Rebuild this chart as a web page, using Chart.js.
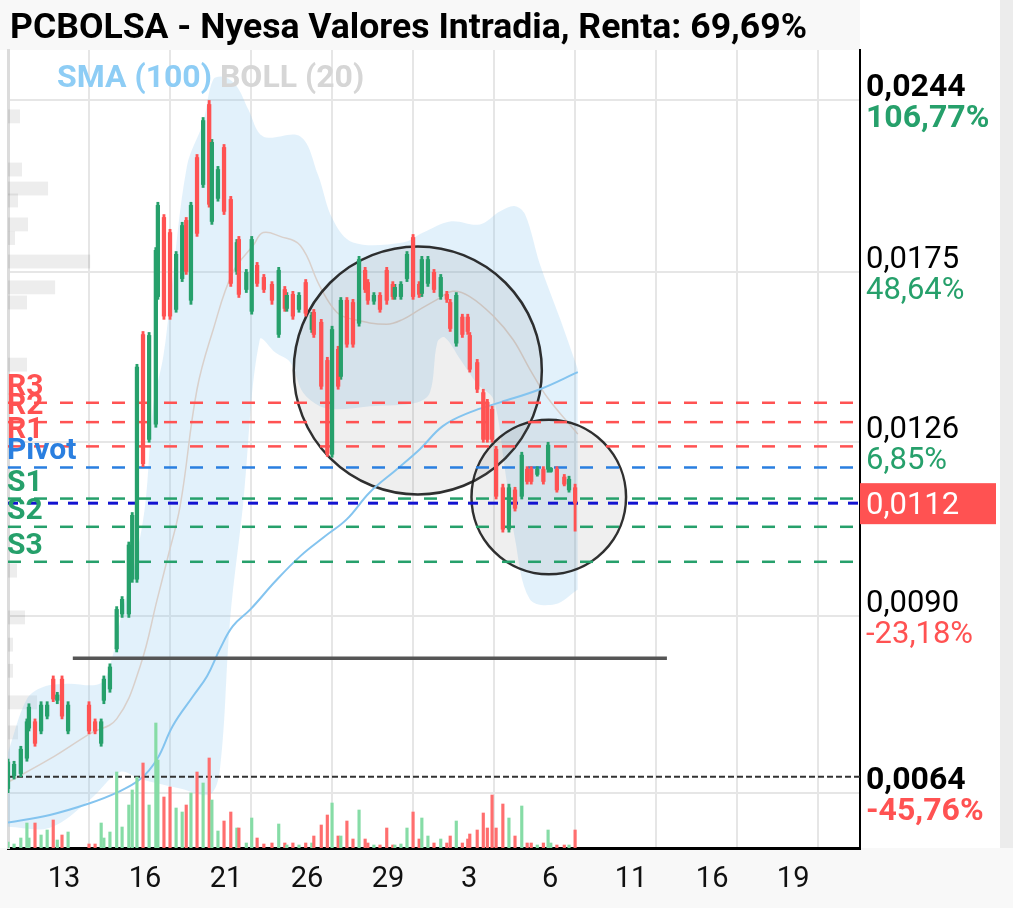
<!DOCTYPE html>
<html>
<head>
<meta charset="utf-8">
<script src="https://cdn.jsdelivr.net/npm/chart.js@4.4.1/dist/chart.umd.min.js"></script>
<style>
html,body{margin:0;padding:0;background:#fff;}
canvas{display:block;}
</style>
</head>
<body>
<canvas id="grafico" width="1013" height="908"></canvas>
<script>
var titulo = 'PCBOLSA - Nyesa Valores Intradia, Renta: 69,69%';

// eje x: sesiones (en unidades de vela) y etiquetas de dia
var ticksEje = [12, 24, 36, 48, 60, 72, 84, 96, 108, 120];
var diasEje = ['13', '16', '21', '26', '29', '3', '6', '11', '16', '19'];

// eje de precios (log) y etiquetas de la derecha
var precioTicks = [0.0244, 0.0175, 0.0126, 0.0090, 0.0064];
var precioTexto = ['0,0244', '0,0175', '0,0126', '0,0090', '0,0064'];
var rentaTexto = ['106,77%', '48,64%', '6,85%', '-23,18%', '-45,76%'];
var precioNegrita = [true, false, false, false, true];
var ultimo = 0.0112;
var ultimoTexto = '0,0112';
var precioCompra = 0.0066;

// pivotes
var pivotNombres = ['R3', 'R2', 'R1', 'Pivot', 'S1', 'S2', 'S3'];
var pivotValores = [0.0136, 0.0131, 0.0125, 0.0120, 0.0113, 0.0107, 0.0100];

// linea de soporte dibujada a mano
var soporteT = [9.6, 97.6];
var soportePrecio = 0.0083;

// circulos: centro en el tiempo, precio arriba y abajo
var circulosT = [60.7, 80.1];
var circulosSup = [0.0184, 0.01316];
var circulosInf = [0.01139, 0.00976];

// velas
var tiempos = [0.0,0.9,1.9,2.8,3.1,4.0,4.9,5.8,6.7,7.3,8.0,8.9,
  12.0,12.9,13.8,14.2,15.1,16.1,16.9,17.9,18.4,19.1,20.0,20.9,21.9,22.2,23.1,24.0,24.9,25.8,26.4,27.1,28.0,28.9,29.8,30.2,31.1,32.0,33.0,33.9,34.2,35.3,36.1,36.9,37.9,39.1,40.1,41.0,41.3,42.2,43.1,
  44.1,45.0,45.3,46.4,47.3,48.0,48.9,49.3,50.2,51.1,52.0,52.9,53.3,54.2,55.1,56.1,57.0,57.3,58.2,59.1,60.0,60.9,61.3,62.2,63.1,64.1,65.0,65.5,66.4,67.3,68.1,68.4,69.5,70.4,71.0,71.7,72.3,73.3,74.2,75.1,76.1,76.9,77.5,78.4,79.3,80.0,80.4,81.3,82.4,83.1,84.0];
var aperturas = [.00645,.00661,.00664,.00684,.00725,.00734,.00721,.00742,.00797,.00765,.00797,.00721,
  .00758,.00734,.00704,.00765,.00782,.00845,.00904,.00904,.00967,.00967,.01552,.01267,.01305,.01670,.01946,.01890,.01629,.01729,.01935,.01658,.02185,.02074,.02421,.01931,.02019,.02228,.02015,.01753,.01865,.01693,.01623,.01774,.01733,.01710,.01552,.01693,.01632,.01677,.01629,
  .01716,.01567,.01620,.01589,.01476,.01231,.01508,.01431,.01658,.01651,.01586,.01757,.01716,.01655,.01674,.01757,.01710,.01670,.01670,.01729,.01872,.01710,.01680,.01713,.01750,.01670,.01677,.01651,.01526,.01605,.01605,.01549,.01470,.01387,.01361,.01343,.01243,.01154,.01065,.01149,.01135,.01196,.01196,.01184,.01196,.01196,.01191,.01196,.01178,.01149,.01154];
var maximos = [.00683,.00680,.00700,.00738,.00760,.00738,.00763,.00763,.00802,.00777,.00802,.00763,
  .00763,.00738,.00738,.00802,.00821,.00917,.00935,.01039,.01100,.01465,.01561,.01558,.01836,.02004,.01957,.01902,.01822,.01928,.01946,.02004,.02198,.02361,.02440,.02263,.02148,.02241,.02027,.01865,.01876,.01760,.01876,.01784,.01743,.01719,.01767,.01703,.01683,.01687,.01683,
  .01726,.01620,.01629,.01598,.01485,.01577,.01517,.01667,.01667,.01661,.01805,.01767,.01726,.01683,.01683,.01767,.01719,.01710,.01719,.01822,.01883,.01719,.01805,.01805,.01760,.01743,.01687,.01661,.01683,.01614,.01614,.01558,.01479,.01396,.01369,.01351,.01250,.01162,.01162,.01155,.01236,.01202,.01202,.01202,.01202,.01260,.01200,.01202,.01184,.01180,.01162];
var minimos = [.00640,.00657,.00660,.00680,.00721,.00700,.00717,.00738,.00763,.00760,.00738,.00717,
  .00717,.00717,.00700,.00760,.00777,.00840,.00898,.00898,.00961,.00961,.01202,.01260,.01297,.01661,.01598,.01598,.01620,.01719,.01743,.01645,.01876,.02062,.01985,.01920,.02008,.01957,.01703,.01743,.01667,.01683,.01614,.01703,.01683,.01645,.01543,.01623,.01623,.01598,.01620,
  .01608,.01558,.01543,.01396,.01226,.01224,.01396,.01423,.01514,.01514,.01577,.01683,.01645,.01645,.01620,.01645,.01661,.01661,.01661,.01719,.01661,.01667,.01670,.01703,.01683,.01661,.01651,.01561,.01517,.01543,.01552,.01443,.01387,.01260,.01260,.01260,.01129,.01059,.01059,.01103,.01129,.01162,.01162,.01180,.01162,.01189,.01189,.01144,.01158,.01144,.01061];
var cierres = [.00679,.00676,.00696,.00734,.00755,.00704,.00758,.00758,.00767,.00773,.00742,.00758,
  .00721,.00721,.00734,.00797,.00816,.00912,.00930,.01033,.01094,.01457,.01209,.01549,.01826,.01992,.01608,.01608,.01812,.01916,.01753,.01992,.01887,.02347,.01996,.02250,.02135,.01969,.01713,.01854,.01677,.01750,.01865,.01713,.01693,.01658,.01757,.01632,.01674,.01608,.01674,
  .01617,.01611,.01552,.01404,.01233,.01567,.01404,.01658,.01523,.01523,.01794,.01693,.01658,.01674,.01629,.01658,.01670,.01700,.01710,.01812,.01670,.01677,.01794,.01794,.01693,.01733,.01661,.01570,.01674,.01552,.01561,.01451,.01396,.01267,.01267,.01267,.01135,.01065,.01154,.01109,.01229,.01168,.01168,.01196,.01168,.01253,.01198,.01149,.01162,.01173,.01120];
var volumenes = [6,4,10,25,10,25,13,18,28,8,13,16,
  4,4,25,10,16,76,21,43,58,71,85,43,125,88,51,61,40,36,43,55,76,65,90,48,17,27,36,20,20,5,30,10,4,5,24,5,3,5,3,
  5,5,12,23,33,45,12,12,27,9,38,9,5,3,3,20,3,3,4,20,36,9,30,12,5,9,5,12,27,5,9,14,18,35,20,53,20,44,30,12,42,5,5,3,5,18,5,3,3,3,18];

// bandas de Bollinger (20) y SMA (100)
var bollSupT = [0,2.8,5.2,8.7,13.6,15.1,17.0,18.5,20.3,21.5,23.0,24.0,26.5,28.9,30.4,32.1,33.9,35.6,37.8,43.3,45.9,48.1,51.1,58.5,61.5,65.5,69.9,72.9,75.1,76.6,78.8,81.8,84.4];
var bollSup = [.00692,.00767,.00785,.00790,.00790,.00818,.00912,.00980,.01114,.01351,.01487,.01651,.02148,.02338,.02541,.02553,.02507,.02398,.02276,.02276,.02115,.01939,.01854,.01854,.01890,.01931,.01920,.01969,.01989,.01957,.01777,.01598,.01451];
var bollInfT = [0,6.2,12.1,16.6,19.6,25.5,29.9,31.4,32.9,34.8,37.3,39.6,41.8,43.7,46.2,48.7,53.6,60.6,62.5,63.6,64.7,67.0,69.6,71.9,73.6,75.1,77.3,81.0,84.4];
var bollInf = [.00599,.00598,.00631,.00666,.00657,.00645,.00638,.00670,.00895,.01114,.01537,.01499,.01471,.01387,.01351,.01343,.01351,.01361,.01387,.01529,.01543,.01479,.01409,.01369,.01196,.01045,.00930,.00921,.00948];
var bollMedT = [0,6.2,12.1,16.1,19.6,22.1,23.6,25.5,28.0,30.4,33.3,36.3,37.8,40.3,43.3,46.2,48.7,51.1,56.1,58.5,61.0,63.6,65.9,68.4,71.9,74.8,77.3,79.9,84.4];
var bollMed = [.00653,.00683,.00717,.00738,.00818,.00930,.01005,.01114,.01396,.01567,.01750,.01843,.01890,.01876,.01843,.01703,.01620,.01598,.01583,.01598,.01629,.01661,.01687,.01670,.01608,.01537,.01451,.01374,.01280];
var smaT = [0,6.2,12.1,16.1,19.6,22.1,24.4,27.4,29.5,31.4,33.3,35.9,39.6,43.3,47.0,50.2,53.6,57.6,61.0,64.4,68.4,72.9,78.8,84.4];
var sma = [.00604,.00613,.00627,.00640,.00657,.00683,.00728,.00771,.00802,.00845,.00883,.00912,.00963,.01011,.01051,.01086,.01144,.01196,.01243,.01300,.01335,.01361,.01396,.01443];

// perfil de volumen por precio (barras grises a la izquierda)
var perfilPrecio = [0.02366,0.02135,0.02058,0.02011,0.0192,0.0187,0.01787,0.0170,0.01651,0.01464,0.00983,0.00898,0.00852,0.0081,0.00762,0.00719];
var perfilVol = [12,14,40,10,20,7,82,47,19,19,9,17,5,5,29,10];

var VERDE = '#26a06b', ROJO = '#ff5252', AZUL = '#2a7fe0';

function puntos(ts, vs) {
  return ts.map(function(t, i) { return { x: t, y: vs[i] }; });
}
function horizontal(v) {
  return [{ x: 0, y: v }, { x: 126.2, y: v }];
}

var sube = cierres.map(function(c, i) { return c >= aperturas[i]; });

var datasets = [
  { type: 'line', label: 'BOLL sup', data: puntos(bollSupT, bollSup), borderWidth: 0, pointRadius: 0, tension: 0.35,
    fill: '+1', backgroundColor: 'rgba(135,195,240,0.24)', order: 10 },
  { type: 'line', label: 'BOLL inf', data: puntos(bollInfT, bollInf), borderWidth: 0, pointRadius: 0, tension: 0.35, fill: false, order: 10 },
  { type: 'line', label: 'BOLL media', data: puntos(bollMedT, bollMed), borderColor: '#d9d0cb', borderWidth: 1.5, pointRadius: 0, tension: 0.4, fill: false, order: 9 },
  { type: 'line', label: 'SMA', data: puntos(smaT, sma), borderColor: '#84c4ef', borderWidth: 2, pointRadius: 0, tension: 0.4, fill: false, order: 8 }
];

pivotValores.forEach(function(v, i) {
  var col = pivotNombres[i].charAt(0) === 'R' ? ROJO : (pivotNombres[i] === 'Pivot' ? AZUL : VERDE);
  datasets.push({ type: 'line', data: horizontal(v), borderColor: col, borderWidth: 2.5, borderDash: [13, 13], pointRadius: 0, fill: false, order: 6 });
});
datasets.push({ type: 'line', data: horizontal(ultimo), borderColor: '#1212d0', borderWidth: 3, borderDash: [10, 10], pointRadius: 0, fill: false, order: 5 });
datasets.push({ type: 'line', data: horizontal(precioCompra), borderColor: '#333', borderWidth: 2, borderDash: [6, 3], pointRadius: 0, fill: false, order: 5 });
datasets.push({ type: 'line', data: [{ x: soporteT[0], y: soportePrecio }, { x: soporteT[1], y: soportePrecio }], borderColor: '#555', borderWidth: 3.5, pointRadius: 0, fill: false, order: 5 });

datasets.push({ type: 'bar', label: 'mechas', data: tiempos.map(function(t, i) { return { x: t, y: [minimos[i], maximos[i]] }; }),
  backgroundColor: sube.map(function(s) { return s ? VERDE : ROJO; }), barThickness: 2.2, grouped: false, order: 3 });
datasets.push({ type: 'bar', label: 'cuerpos', data: tiempos.map(function(t, i) { return { x: t, y: [aperturas[i], cierres[i]] }; }),
  backgroundColor: sube.map(function(s) { return s ? VERDE : ROJO; }), barThickness: 3.6, grouped: false, order: 2 });
datasets.push({ type: 'bar', label: 'volumen', yAxisID: 'yv', data: tiempos.map(function(t, i) { return { x: t, y: volumenes[i] }; }),
  backgroundColor: sube.map(function(s) { return s ? '#86dca6' : '#ff6e6e'; }), barThickness: 2.5, grouped: false, order: 1 });

var plugDibujo = {
  id: 'dibujo',
  beforeDraw: function(chart) {
    var ctx = chart.ctx, a = chart.chartArea;
    ctx.save();
    ctx.fillStyle = '#fff';
    ctx.fillRect(0, 0, chart.width, chart.height);
    ctx.fillStyle = '#f8f8f8';
    ctx.fillRect(0, 0, a.right, a.top);
    ctx.fillRect(0, a.bottom, chart.width, chart.height - a.bottom);
    ctx.fillStyle = '#ececec';
    ctx.fillRect(1000, 0, 13, a.bottom);
    ctx.restore();
  },
  beforeDatasetsDraw: function(chart) {
    var ctx = chart.ctx, y = chart.scales.y, xp = chart.scales.xp;
    ctx.save();
    ctx.fillStyle = 'rgba(0,0,0,0.07)';
    perfilPrecio.forEach(function(p, i) {
      var y1 = y.getPixelForValue(p * 1.0135), y2 = y.getPixelForValue(p / 1.0135);
      var x1 = xp.getPixelForValue(0), x2 = xp.getPixelForValue(perfilVol[i]);
      ctx.fillRect(x1, y1, x2 - x1, y2 - y1);
    });
    ctx.restore();
  },
  afterDatasetDraw: function(chart, args) {
    if (args.index !== 2) return;
    var ctx = chart.ctx, x = chart.scales.x, y = chart.scales.y;
    ctx.save();
    circulosT.forEach(function(t, i) {
      var top = y.getPixelForValue(circulosSup[i]), bot = y.getPixelForValue(circulosInf[i]);
      var cx = x.getPixelForValue(t), cy = (top + bot) / 2, r = (bot - top) / 2;
      ctx.beginPath();
      ctx.arc(cx, cy, r, 0, Math.PI * 2);
      ctx.fillStyle = 'rgba(100,100,100,0.1)';
      ctx.fill();
      ctx.lineWidth = 2.5;
      ctx.strokeStyle = 'rgba(25,25,25,0.9)';
      ctx.stroke();
    });
    ctx.restore();
  },
  afterDraw: function(chart) {
    var ctx = chart.ctx, a = chart.chartArea, y = chart.scales.y;
    ctx.save();
    ctx.textAlign = 'left';
    ctx.textBaseline = 'alphabetic';
    // titulo
    ctx.fillStyle = '#000';
    ctx.font = 'bold 35.6px Roboto';
    ctx.fillText(titulo, 10, 38);
    // leyenda
    ctx.font = 'bold 32px Roboto';
    ctx.fillStyle = '#8ecdf5';
    ctx.fillText('SMA (100)', 57, 87);
    var w = ctx.measureText('SMA (100) ').width;
    ctx.fillStyle = '#d6d6d6';
    ctx.fillText('BOLL (20)', 57 + w, 87);
    // etiquetas de pivotes
    ctx.font = 'bold 30px Roboto';
    pivotValores.forEach(function(v, i) {
      var n = pivotNombres[i];
      ctx.fillStyle = n.charAt(0) === 'R' ? ROJO : (n === 'Pivot' ? AZUL : VERDE);
      ctx.fillText(n, 7, y.getPixelForValue(v) - 8);
    });
    // etiquetas de la derecha
    precioTicks.forEach(function(v, i) {
      var py = y.getPixelForValue(v);
      ctx.font = precioNegrita[i] ? 'bold 32px Roboto' : '31px Roboto';
      ctx.fillStyle = '#000';
      ctx.fillText(precioTexto[i], a.right + 6, py - 4);
      ctx.fillStyle = rentaTexto[i].charAt(0) === '-' ? ROJO : VERDE;
      ctx.fillText(rentaTexto[i], a.right + 6, py + 27);
    });
    var pu = y.getPixelForValue(ultimo);
    ctx.fillStyle = ROJO;
    ctx.fillRect(a.right, pu - 20, 136, 41);
    ctx.fillStyle = '#fff';
    ctx.font = '31px Roboto';
    ctx.fillText(ultimoTexto, a.right + 6, pu + 11);
    ctx.restore();
  }
};

new Chart(document.getElementById('grafico'), {
  type: 'bar',
  data: { datasets: datasets },
  options: {
    responsive: false,
    animation: false,
    devicePixelRatio: 1,
    layout: { padding: { top: 50, left: 0, right: 0, bottom: 0 } },
    plugins: { legend: { display: false }, tooltip: { enabled: false }, title: { display: false } },
    scales: {
      x: {
        type: 'linear', min: 0, max: 126.2, offset: false,
        afterBuildTicks: function(s) { s.ticks = ticksEje.map(function(v) { return { value: v }; }); },
        afterFit: function(s) { s.height = 60; },
        ticks: { callback: function(v, i) { return diasEje[i]; }, labelOffset: -25, padding: 14, color: '#111',
          font: { family: 'Roboto', size: 29 }, maxRotation: 0, autoSkip: false },
        grid: { color: '#e6e6e6', lineWidth: 2, drawTicks: false, offset: false },
        border: { color: '#000', width: 3 }
      },
      xp: {
        type: 'linear', position: 'top', min: 0, max: 850, offset: false,
        afterFit: function(s) { s.height = 0; },
        ticks: { display: false },
        grid: { display: false, drawTicks: false },
        border: { display: false }
      },
      y: {
        type: 'logarithmic', position: 'right', min: 0.00575, max: 0.0269,
        afterBuildTicks: function(s) { s.ticks = precioTicks.map(function(v) { return { value: v }; }); },
        afterFit: function(s) { s.width = 153; },
        ticks: { display: false },
        grid: { color: '#e6e6e6', lineWidth: 2, drawTicks: false },
        border: { color: '#000', width: 2 }
      },
      yv: {
        type: 'linear', position: 'left', min: 0, max: 798,
        afterFit: function(s) { s.width = 8; },
        ticks: { display: false },
        grid: { display: false, drawTicks: false },
        border: { color: '#dcdcdc', width: 3 }
      }
    }
  },
  plugins: [plugDibujo]
});
</script>
</body>
</html>
